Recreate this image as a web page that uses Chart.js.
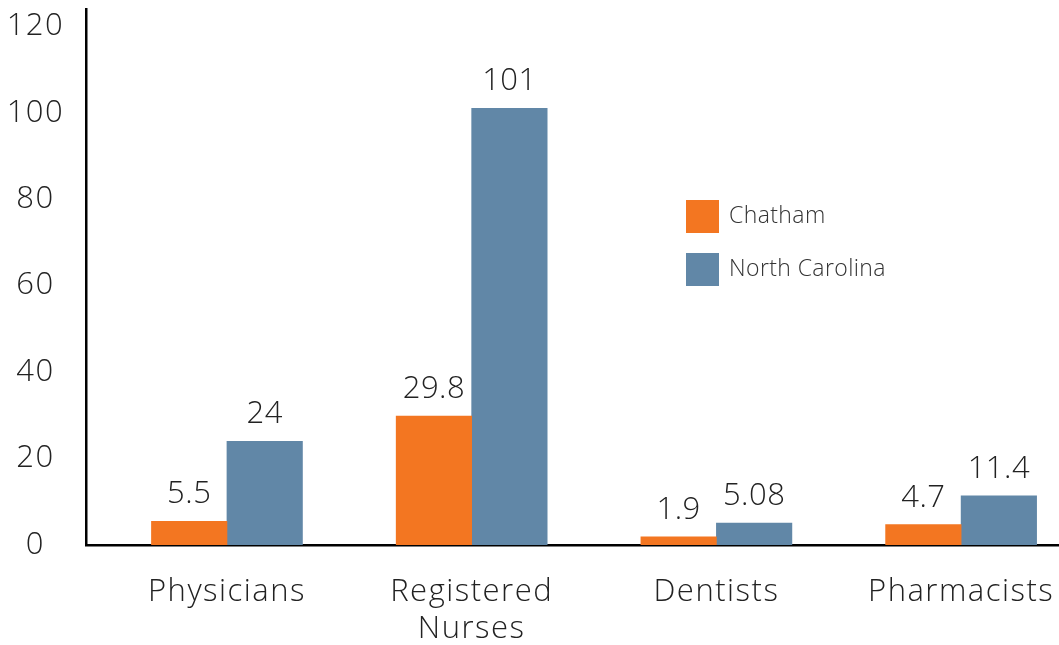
<!DOCTYPE html>
<html>
<head>
<meta charset="utf-8">
<script src="https://cdn.jsdelivr.net/npm/chart.js@4"></script>
<style>
    html, body { margin: 0; padding: 0; background: #fff; overflow: hidden; }
    #wrap { width: 1059px; height: 645px; position: relative; }
</style>
</head>
<body>
<div id="wrap"><canvas id="healthChart"></canvas></div>
<script>
// Data
const categories = ['Physicians', ['Registered', 'Nurses'], 'Dentists', 'Pharmacists'];
const seriesNames = ['Chatham', 'North Carolina'];
const chathamValues = [5.5, 29.8, 1.9, 4.7];
const northCarolinaValues = [24, 101, 5.08, 11.4];
const yTicks = [0, 20, 40, 60, 80, 100, 120];

const seriesColors = ['#F37621', '#6187A7'];
const fontFamily = "'Open Sans', 'Lato', sans-serif";
const textColor = '#222';

// wider letter spacing for the axis text (the original font is a wide geometric one)
const wideText = {
    id: 'wideText',
    beforeDraw(chart) {
        chart.ctx.letterSpacing = '1.5px';
    }
};

// Value labels above each bar
const valueLabels = {
    id: 'valueLabels',
    afterDatasetsDraw(chart) {
        const ctx = chart.ctx;
        ctx.save();
        ctx.letterSpacing = '0.5px';
        ctx.font = '300 31px ' + fontFamily;
        ctx.fillStyle = textColor;
        ctx.textAlign = 'center';
        ctx.textBaseline = 'alphabetic';
        chart.data.datasets.forEach((ds, i) => {
            chart.getDatasetMeta(i).data.forEach((bar, j) => {
                ctx.fillText(String(ds.data[j].y), bar.x, bar.y - 18);
            });
        });
        ctx.restore();
    }
};

// Legend sitting inside the plot
const boxLegend = {
    id: 'boxLegend',
    afterDraw(chart) {
        const ctx = chart.ctx;
        ctx.save();
        ctx.letterSpacing = '0.4px';
        ctx.font = '300 23px ' + fontFamily;
        ctx.textBaseline = 'middle';
        ctx.textAlign = 'left';
        chart.data.datasets.forEach((ds, i) => {
            const top = 200 + i * 53;
            ctx.fillStyle = ds.backgroundColor;
            ctx.fillRect(686, top, 33, 33);
            ctx.fillStyle = '#333';
            ctx.fillText(ds.label, 729, top + 16);
        });
        ctx.restore();
    }
};

const toPoints = values => values.map((v, i) => ({ x: i, y: v }));

function noPadding(scale) {
    scale.paddingTop = 0;
    scale.paddingBottom = 0;
    scale.paddingLeft = 0;
    scale.paddingRight = 0;
}

const ctx = document.getElementById('healthChart').getContext('2d');
new Chart(ctx, {
    type: 'bar',
    data: {
        datasets: [
            {
                label: seriesNames[0],
                data: toPoints(chathamValues),
                backgroundColor: seriesColors[0],
                barThickness: 75.5
            },
            {
                label: seriesNames[1],
                data: toPoints(northCarolinaValues),
                backgroundColor: seriesColors[1],
                barThickness: 75.5
            }
        ]
    },
    options: {
        responsive: true,
        maintainAspectRatio: false,
        animation: false,
        layout: { padding: { top: 9, right: 0, left: 0, bottom: 0 } },
        plugins: {
            legend: { display: false },
            tooltip: { enabled: false }
        },
        scales: {
            x: {
                type: 'linear',
                offset: false,
                min: -0.576,
                max: 3.40,
                grid: { display: false, drawTicks: false },
                border: { display: true, color: '#000', width: 2.5 },
                afterBuildTicks(scale) {
                    scale.ticks = categories.map((c, i) => ({ value: i }));
                },
                afterFit(scale) {
                    scale.height = 100;
                    noPadding(scale);
                },
                ticks: {
                    autoSkip: false,
                    maxRotation: 0,
                    padding: 29,
                    color: textColor,
                    font: { family: fontFamily, size: 31, weight: '300', lineHeight: 1.19 },
                    callback: value => categories[value]
                }
            },
            y: {
                min: 0,
                max: 124,
                grid: { display: false, drawTicks: false },
                border: { display: true, color: '#000', width: 2.5 },
                afterBuildTicks(scale) {
                    scale.ticks = yTicks.map(v => ({ value: v }));
                },
                afterFit(scale) {
                    scale.width = 86;
                    noPadding(scale);
                },
                ticks: {
                    crossAlign: 'center',
                    padding: 24,
                    color: textColor,
                    font: { family: fontFamily, size: 31, weight: '300' }
                }
            }
        }
    },
    plugins: [wideText, valueLabels, boxLegend]
});
</script>
</body>
</html>
